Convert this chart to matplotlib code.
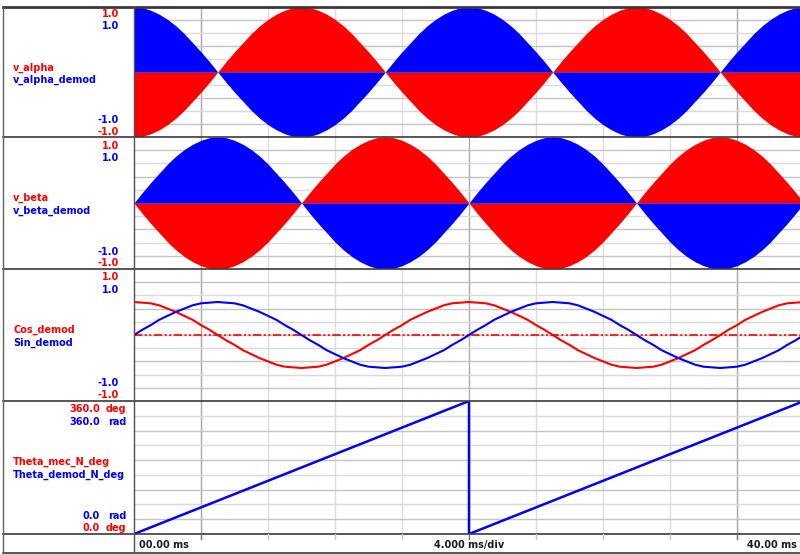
import matplotlib
matplotlib.use("Agg")
import matplotlib.pyplot as plt
from matplotlib.lines import Line2D

# ---------------------------------------------------------------------------
# data (0.5 ms samples, 0..40 ms)
# ---------------------------------------------------------------------------
t_ms = [i * 0.5 for i in range(81)]

v_alpha_demod = [
    1.00, 0.99, 0.95, 0.89, 0.81, 0.71, 0.59, 0.45, 0.31, 0.16, 0.00, -0.16, -0.31, -0.45, -0.59, -0.71, -0.81, -0.89, -0.95, -0.99,
    -1.00, -0.99, -0.95, -0.89, -0.81, -0.71, -0.59, -0.45, -0.31, -0.16, 0.00, 0.16, 0.31, 0.45, 0.59, 0.71, 0.81, 0.89, 0.95, 0.99,
    1.00, 0.99, 0.95, 0.89, 0.81, 0.71, 0.59, 0.45, 0.31, 0.16, 0.00, -0.16, -0.31, -0.45, -0.59, -0.71, -0.81, -0.89, -0.95, -0.99,
    -1.00, -0.99, -0.95, -0.89, -0.81, -0.71, -0.59, -0.45, -0.31, -0.16, 0.00, 0.16, 0.31, 0.45, 0.59, 0.71, 0.81, 0.89, 0.95, 0.99,
    1.00]
v_alpha = [
    -1.00, -0.99, -0.95, -0.89, -0.81, -0.71, -0.59, -0.45, -0.31, -0.16, 0.00, 0.16, 0.31, 0.45, 0.59, 0.71, 0.81, 0.89, 0.95, 0.99,
    1.00, 0.99, 0.95, 0.89, 0.81, 0.71, 0.59, 0.45, 0.31, 0.16, 0.00, -0.16, -0.31, -0.45, -0.59, -0.71, -0.81, -0.89, -0.95, -0.99,
    -1.00, -0.99, -0.95, -0.89, -0.81, -0.71, -0.59, -0.45, -0.31, -0.16, 0.00, 0.16, 0.31, 0.45, 0.59, 0.71, 0.81, 0.89, 0.95, 0.99,
    1.00, 0.99, 0.95, 0.89, 0.81, 0.71, 0.59, 0.45, 0.31, 0.16, 0.00, -0.16, -0.31, -0.45, -0.59, -0.71, -0.81, -0.89, -0.95, -0.99,
    -1.00]
v_beta_demod = [
    0.00, 0.16, 0.31, 0.45, 0.59, 0.71, 0.81, 0.89, 0.95, 0.99, 1.00, 0.99, 0.95, 0.89, 0.81, 0.71, 0.59, 0.45, 0.31, 0.16,
    0.00, -0.16, -0.31, -0.45, -0.59, -0.71, -0.81, -0.89, -0.95, -0.99, -1.00, -0.99, -0.95, -0.89, -0.81, -0.71, -0.59, -0.45, -0.31, -0.16,
    0.00, 0.16, 0.31, 0.45, 0.59, 0.71, 0.81, 0.89, 0.95, 0.99, 1.00, 0.99, 0.95, 0.89, 0.81, 0.71, 0.59, 0.45, 0.31, 0.16,
    0.00, -0.16, -0.31, -0.45, -0.59, -0.71, -0.81, -0.89, -0.95, -0.99, -1.00, -0.99, -0.95, -0.89, -0.81, -0.71, -0.59, -0.45, -0.31, -0.16,
    0.00]
v_beta = [
    0.00, -0.16, -0.31, -0.45, -0.59, -0.71, -0.81, -0.89, -0.95, -0.99, -1.00, -0.99, -0.95, -0.89, -0.81, -0.71, -0.59, -0.45, -0.31, -0.16,
    0.00, 0.16, 0.31, 0.45, 0.59, 0.71, 0.81, 0.89, 0.95, 0.99, 1.00, 0.99, 0.95, 0.89, 0.81, 0.71, 0.59, 0.45, 0.31, 0.16,
    0.00, -0.16, -0.31, -0.45, -0.59, -0.71, -0.81, -0.89, -0.95, -0.99, -1.00, -0.99, -0.95, -0.89, -0.81, -0.71, -0.59, -0.45, -0.31, -0.16,
    0.00, 0.16, 0.31, 0.45, 0.59, 0.71, 0.81, 0.89, 0.95, 0.99, 1.00, 0.99, 0.95, 0.89, 0.81, 0.71, 0.59, 0.45, 0.31, 0.16,
    0.00]
cos_demod = [
    0.50, 0.49, 0.48, 0.45, 0.40, 0.35, 0.29, 0.23, 0.15, 0.08, 0.00, -0.08, -0.15, -0.23, -0.29, -0.35, -0.40, -0.45, -0.48, -0.49,
    -0.50, -0.49, -0.48, -0.45, -0.40, -0.35, -0.29, -0.23, -0.15, -0.08, 0.00, 0.08, 0.15, 0.23, 0.29, 0.35, 0.40, 0.45, 0.48, 0.49,
    0.50, 0.49, 0.48, 0.45, 0.40, 0.35, 0.29, 0.23, 0.15, 0.08, 0.00, -0.08, -0.15, -0.23, -0.29, -0.35, -0.40, -0.45, -0.48, -0.49,
    -0.50, -0.49, -0.48, -0.45, -0.40, -0.35, -0.29, -0.23, -0.15, -0.08, 0.00, 0.08, 0.15, 0.23, 0.29, 0.35, 0.40, 0.45, 0.48, 0.49,
    0.50]
sin_demod = [
    0.00, 0.08, 0.15, 0.23, 0.29, 0.35, 0.40, 0.45, 0.48, 0.49, 0.50, 0.49, 0.48, 0.45, 0.40, 0.35, 0.29, 0.23, 0.15, 0.08,
    0.00, -0.08, -0.15, -0.23, -0.29, -0.35, -0.40, -0.45, -0.48, -0.49, -0.50, -0.49, -0.48, -0.45, -0.40, -0.35, -0.29, -0.23, -0.15, -0.08,
    0.00, 0.08, 0.15, 0.23, 0.29, 0.35, 0.40, 0.45, 0.48, 0.49, 0.50, 0.49, 0.48, 0.45, 0.40, 0.35, 0.29, 0.23, 0.15, 0.08,
    0.00, -0.08, -0.15, -0.23, -0.29, -0.35, -0.40, -0.45, -0.48, -0.49, -0.50, -0.49, -0.48, -0.45, -0.40, -0.35, -0.29, -0.23, -0.15, -0.08,
    0.00]

theta_t = [0, 20, 20, 40]
theta_mec_deg = [0, 360, 0, 360]
theta_demod_deg = [0, 360, 0, 360]

RED = "#ff0000"
BLUE = "#0000ff"
W, H = 800, 554

fig = plt.figure(figsize=(W / 100, H / 100), dpi=100)
fig.patch.set_facecolor("white")


def fy(y):
    return 1 - y / H


def fx(x):
    return x / W


# panel pixel bounds (top, bottom); plot area runs from x=134 past the right edge
panels = [(7, 137), (137, 269), (269, 401), (401, 534)]
X0, X1 = 134, 804
axes = []
for top, bot in panels:
    ax = fig.add_axes([fx(X0), fy(bot), fx(X1 - X0), (bot - top) / H])
    ax.set_xlim(0, 40)
    for s in ax.spines.values():
        s.set_visible(False)
    ax.set_xticks([])
    ax.set_yticks([])
    for xv in range(4, 40, 4):
        dark = xv in (4, 20, 36)
        ax.axvline(xv, color="#a8a8a8" if dark else "#dedede", lw=1.0, zorder=1)
    axes.append(ax)


def hgrid(ax, lo, hi, n):
    step = (hi - lo) / n
    for k in range(1, n):
        ax.axhline(lo + k * step, color="#c4c4c4" if k % 2 else "#dadada",
                   lw=1.0, zorder=1)


# panel 1: v_alpha
ax = axes[0]
ax.set_ylim(-1, 1)
hgrid(ax, -1, 1, 10)
ax.fill_between(t_ms, 0, v_alpha, color=RED, lw=0, zorder=3)
ax.fill_between(t_ms, 0, v_alpha_demod, color=BLUE, lw=0, zorder=3)

# panel 2: v_beta
ax = axes[1]
ax.set_ylim(-1, 1)
hgrid(ax, -1, 1, 10)
ax.fill_between(t_ms, 0, v_beta, color=RED, lw=0, zorder=3)
ax.fill_between(t_ms, 0, v_beta_demod, color=BLUE, lw=0, zorder=3)

# panel 3: cos / sin demod
ax = axes[2]
ax.set_ylim(-1, 1)
hgrid(ax, -1, 1, 10)
ax.axhline(0, color=RED, lw=1.2, dashes=(5, 1.5, 1.2, 1.5, 1.2, 1.5), zorder=2)
ax.plot([0] + t_ms, [0] + cos_demod, color=RED, lw=1.5, zorder=3)
ax.plot(t_ms, sin_demod, color=BLUE, lw=1.5, zorder=4)

# panel 4: theta
ax = axes[3]
ax.set_ylim(0, 360)
hgrid(ax, 0, 360, 9)
ax.plot(theta_t, theta_mec_deg, color=RED, lw=0.8, zorder=3)
ax.plot(theta_t, theta_demod_deg, color=BLUE, lw=1.8, zorder=4)

# frame lines
frame = "#3a3a3a"
for y in (6.5, 137, 269, 401, 534, 553):
    fig.add_artist(Line2D([fx(2.5), 1], [fy(y), fy(y)], color=frame,
                          lw=1.2 if y != 6.5 else 2.0))
fig.add_artist(Line2D([fx(2.5), fx(2.5)], [fy(6.5), fy(553)], color="#606060", lw=1.0))
fig.add_artist(Line2D([fx(X0), fx(X0)], [fy(6.5), fy(553)], color="#505050", lw=1.0))

# tick marks on the time strip
for xv in range(4, 40, 4):
    xp = X0 + xv * (X1 - X0) / 40
    dark = xv in (4, 20, 36)
    fig.add_artist(Line2D([fx(xp), fx(xp)], [fy(534), fy(539)],
                          color="#707070" if dark else "#c8c8c8", lw=1.0))

# left labels
fs = 7
kw = dict(fontsize=fs, fontweight="bold", va="center")


def lab(x, y, s, c, ha="left"):
    fig.text(fx(x), fy(y), s, color=c, ha=ha, **kw)


lab(119, 14, "1.0", RED, "right")
lab(119, 26, "1.0", BLUE, "right")
lab(13, 68, "v_alpha", RED)
lab(13, 80, "v_alpha_demod", BLUE)
lab(119, 120, "-1.0", BLUE, "right")
lab(119, 132, "-1.0", RED, "right")

lab(119, 146, "1.0", RED, "right")
lab(119, 158, "1.0", BLUE, "right")
lab(13, 198, "v_beta", RED)
lab(13, 211, "v_beta_demod", BLUE)
lab(119, 252, "-1.0", BLUE, "right")
lab(119, 263, "-1.0", RED, "right")

lab(119, 277, "1.0", RED, "right")
lab(119, 290, "1.0", BLUE, "right")
lab(13, 330, "Cos_demod", RED)
lab(13, 343, "Sin_demod", BLUE)
lab(119, 383, "-1.0", BLUE, "right")
lab(119, 395, "-1.0", RED, "right")

lab(100, 409, "360.0", RED, "right")
lab(106, 409, "deg", RED)
lab(100, 422, "360.0", BLUE, "right")
lab(108, 422, "rad", BLUE)
lab(13, 462, "Theta_mec_N_deg", RED)
lab(13, 475, "Theta_demod_N_deg", BLUE)
lab(100, 516, "0.0", BLUE, "right")
lab(108, 516, "rad", BLUE)
lab(100, 528, "0.0", RED, "right")
lab(106, 528, "deg", RED)

# time strip labels
tk = dict(fontsize=fs, fontweight="bold", va="center", color="#1a1a1a")
fig.text(fx(139), fy(545), "00.00 ms", ha="left", **tk)
fig.text(fx(434), fy(545), "4.000 ms/div", ha="left", **tk)
fig.text(fx(797), fy(545), "40.00 ms", ha="right", **tk)

fig.savefig("out.png", dpi=100, facecolor="white")
